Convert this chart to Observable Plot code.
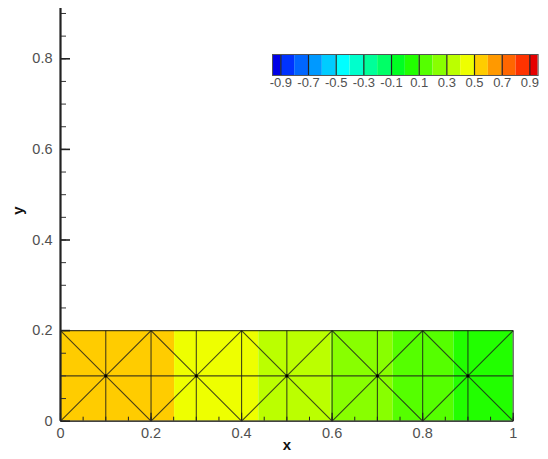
<!DOCTYPE html>
<html>
<head>
<meta charset="utf-8">
<script src="https://cdn.jsdelivr.net/npm/d3@7"></script>
<script src="https://cdn.jsdelivr.net/npm/@observablehq/plot@0.6"></script>
<style>
  html, body { margin: 0; padding: 0; background: #fff; }
  #wrap { position: relative; width: 548px; height: 459px; font-family: "Liberation Sans", Arial, sans-serif; }
  #wrap svg { position: absolute; }
</style>
</head>
<body>
<div id="wrap"></div>
<script>
// Contour levels and flood colours (one colour per 0.1 band, -1 .. 1)
const levels = [-0.9, -0.8, -0.7, -0.6, -0.5, -0.4, -0.3, -0.2, -0.1, 0, 0.1, 0.2, 0.3, 0.4, 0.5, 0.6, 0.7, 0.8, 0.9];
const levelColors = ["#0000e6", "#0033ff", "#0066ff", "#0099ff", "#00ccff", "#00ffff", "#00ffcc", "#00ff99", "#00ff66", "#00ff22",
                     "#22ff00", "#55ff00", "#88ff00", "#bbff00", "#eeff00", "#ffcc00", "#ff9900", "#ff6600", "#ff3300", "#e60000"];

// Flooded bands of the field over the strip (x start, x end, value)
const bandStart = [0, 0.252, 0.438, 0.598, 0.735, 0.869];
const bandEnd   = [0.252, 0.438, 0.598, 0.735, 0.869, 1];
const bandValue = [0.55, 0.45, 0.35, 0.25, 0.15, 0.05];

// Mesh nodes
const meshX = [0, 0.1, 0.2, 0.3, 0.4, 0.5, 0.6, 0.7, 0.8, 0.9, 1];
const meshY = [0, 0.1, 0.2];
const centerX = [0.1, 0.3, 0.5, 0.7, 0.9];

// Axis ticks and labels
const xTicks = [0, 0.2, 0.4, 0.6, 0.8, 1];
const xTickLabels = ["0", "0.2", "0.4", "0.6", "0.8", "1"];
const yTicks = [0, 0.2, 0.4, 0.6, 0.8];
const yTickLabels = ["0", "0.2", "0.4", "0.6", "0.8"];
const legendTicks = [-0.9, -0.7, -0.5, -0.3, -0.1, 0.1, 0.3, 0.5, 0.7, 0.9];
const legendTickLabels = ["-0.9", "-0.7", "-0.5", "-0.3", "-0.1", "0.1", "0.3", "0.5", "0.7", "0.9"];

const W = 548, H = 459;
const mL = 60, mR = 35.3, mT = 8, mB = 38.3;
const yTop = 0.911;
const frameW = W - mL - mR, frameH = H - mT - mB;

const bands = bandStart.map((x0, i) => ({x0, x1: bandEnd[i], v: bandValue[i]}));

// Mesh edges: verticals, horizontals and the crossing diagonals of each 0.2 block
const yMin = meshY[0], yMax = meshY[meshY.length - 1];
const edges = [];
meshX.forEach(x => edges.push({x1: x, y1: yMin, x2: x, y2: yMax}));
meshY.forEach(y => edges.push({x1: meshX[0], y1: y, x2: meshX[meshX.length - 1], y2: y}));
for (let i = 0; i + 2 < meshX.length; i += 2) {
  edges.push({x1: meshX[i], y1: yMax, x2: meshX[i + 2], y2: yMin});
  edges.push({x1: meshX[i], y1: yMin, x2: meshX[i + 2], y2: yMax});
}

const minorX = d3.range(0, 1.0001, 0.05);
const minorY = d3.range(0, 0.9001, 0.05);

const colorScale = {type: "threshold", domain: levels, range: levelColors};

const main = Plot.plot({
  width: W, height: H,
  marginLeft: mL, marginRight: mR, marginTop: mT, marginBottom: mB,
  x: {domain: [0, 1], axis: null},
  y: {domain: [0, yTop], axis: null},
  color: colorScale,
  style: {background: "transparent", fontFamily: "'Liberation Sans', Arial, sans-serif"},
  marks: [
    Plot.rect(bands, {x1: "x0", x2: "x1", y1: yMin, y2: yMax, fill: "v"}),
    Plot.link(edges, {x1: "x1", y1: "y1", x2: "x2", y2: "y2", stroke: "#1a1a1a", strokeOpacity: 0.8, strokeWidth: 1.1}),
    Plot.dot(centerX, {x: d => d, y: meshY[1], r: 1.6, fill: "#000"}),
    // x axis ticks pointing up into the frame
    Plot.tickX(minorX, {x: d => d, insetTop: frameH - 4, stroke: "#222", strokeWidth: 1}),
    Plot.tickX(xTicks, {x: d => d, insetTop: frameH - 8, stroke: "#222", strokeWidth: 1.2}),
    Plot.ruleY([0], {x1: 0, x2: 1, stroke: "#333", strokeWidth: 1.3}),
    // y axis with inward ticks
    Plot.tickY(minorY, {y: d => d, insetLeft: 1, insetRight: frameW - 6, stroke: "#333", strokeWidth: 1}),
    Plot.tickY(yTicks, {y: d => d, insetLeft: 1, insetRight: frameW - 10, stroke: "#222", strokeWidth: 1.6}),
    Plot.ruleX([0], {y1: 0, y2: yTop, stroke: "#222", strokeWidth: 2.2}),
    Plot.text(yTicks, {x: 0, y: d => d, text: (d, i) => yTickLabels[i], dx: -8, textAnchor: "end", fontSize: 14.5, fill: "#505050"}),
    Plot.text(xTicks, {x: d => d, y: 0, text: (d, i) => xTickLabels[i], dy: 12, fontSize: 14.5, fill: "#505050"}),
    Plot.text(["x"], {frameAnchor: "bottom", dy: 29, fontSize: 15, fontWeight: "bold", fill: "#111"}),
    Plot.text(["y"], {frameAnchor: "left", dx: -42, rotate: -90, fontSize: 15, fontWeight: "bold", fill: "#111"})
  ]
});
main.style.left = "0px";
main.style.top = "0px";

// Colour bar legend
const legendMin = -0.96, legendMax = 0.96;
const legendBins = d3.range(-10, 10).map(k => ({a: k / 10, b: (k + 1) / 10, c: (k + 0.5) / 10}));
const lgL = 14, lgR = 14, barW = 265.7, barH = 21;
const legend = Plot.plot({
  width: barW + lgL + lgR, height: barH + 22,
  marginLeft: lgL, marginRight: lgR, marginTop: 1, marginBottom: 21,
  x: {domain: [legendMin, legendMax], axis: null},
  color: colorScale,
  style: {background: "transparent", fontFamily: "'Liberation Sans', Arial, sans-serif", overflow: "visible"},
  marks: [
    Plot.rect(legendBins, {x1: "a", x2: "b", fill: "c", clip: true}),
    Plot.ruleX(legendTicks, {x: d => d, stroke: "#222", strokeWidth: 1.2}),
    Plot.frame({stroke: "#555", strokeWidth: 1}),
    Plot.text(legendTicks, {x: d => d, text: (d, i) => legendTickLabels[i], frameAnchor: "bottom", dy: 12, fontSize: 13, fill: "#505050"})
  ]
});
legend.style.left = (272 - lgL) + "px";
legend.style.top = (54 - 1) + "px";

const wrap = document.getElementById("wrap");
wrap.appendChild(main);
wrap.appendChild(legend);
</script>
</body>
</html>
